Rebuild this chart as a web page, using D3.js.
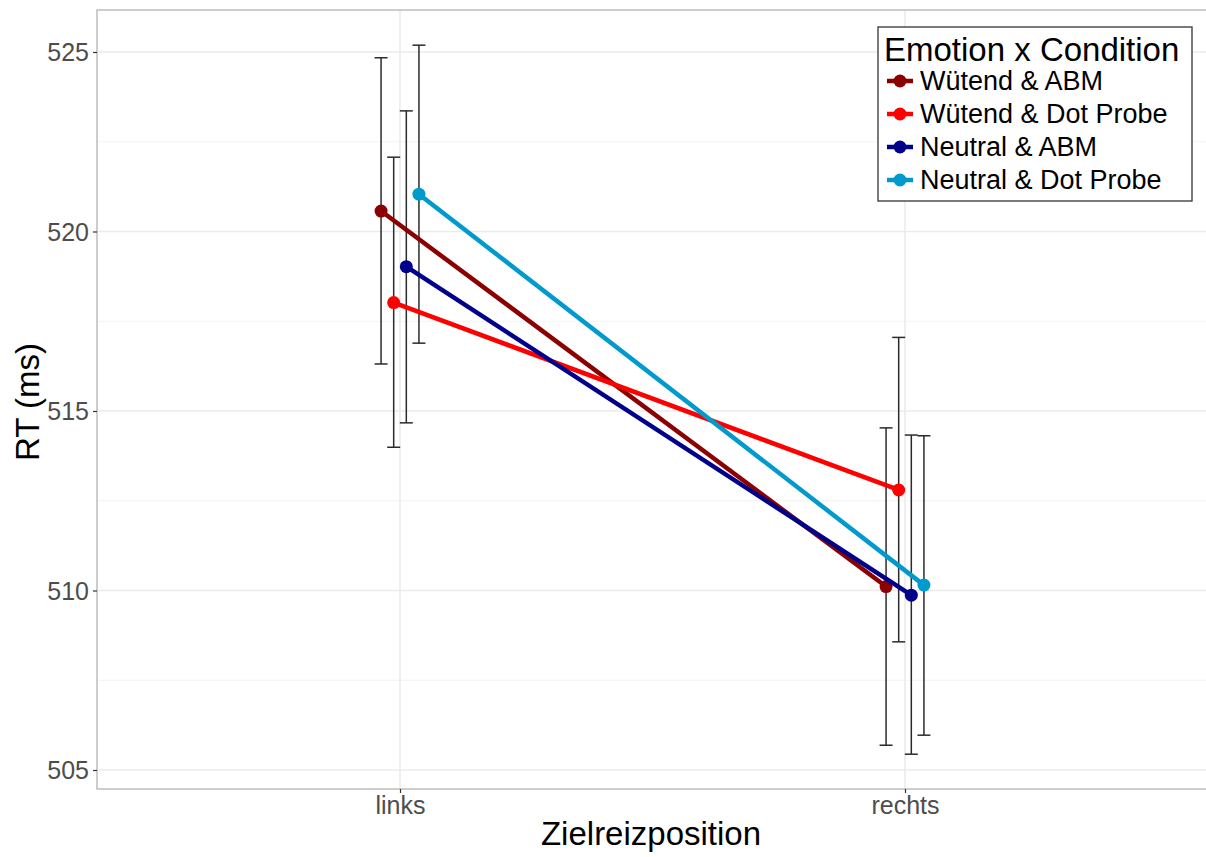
<!DOCTYPE html>
<html>
<head>
<meta charset="utf-8">
<script src="https://cdn.jsdelivr.net/npm/d3@7"></script>
<style>
  body { margin: 0; background: #fff; }
  svg { font-family: "Liberation Sans", Arial, sans-serif; }
</style>
</head>
<body>
<svg id="chart" width="1206" height="857"></svg>
<script>
// data
const positions = ['links', 'rechts'];
const groups = ['Wütend & ABM', 'Wütend & Dot Probe', 'Neutral & ABM', 'Neutral & Dot Probe'];
const groupColors = ['#8b0000', '#ff0000', '#00008b', '#009acd'];
const meanRT = [
  [520.57, 510.11],
  [518.02, 512.80],
  [519.02, 509.87],
  [521.04, 510.15],
];
const upperRT = [
  [524.84, 514.53],
  [522.07, 517.05],
  [523.36, 514.33],
  [525.19, 514.31],
];
const lowerRT = [
  [516.31, 505.69],
  [513.99, 508.57],
  [514.67, 505.44],
  [516.89, 505.97],
];
const yTicks = [505, 510, 515, 520, 525];
const yMinor = [507.5, 512.5, 517.5, 522.5];

const svg = d3.select('#chart');
const panel = { left: 97, top: 10, right: 1208, bottom: 789 };

const x = d3.scaleLinear().domain([0.4, 2.6]).range([panel.left, panel.right]);
const y = d3.scaleLinear().domain([505, 525]).range([770, 52]);
const dodge = d3.scaleBand().domain(groups).range([-0.05, 0.05]);
const xPos = (gi, pi) => x(pi + 1 + dodge(groups[gi]) + dodge.bandwidth() / 2);

// grid
const grid = svg.append('g');
grid.selectAll('.minor').data(yMinor).enter().append('line')
  .attr('x1', panel.left).attr('x2', panel.right)
  .attr('y1', d => y(d)).attr('y2', d => y(d))
  .attr('stroke', '#f3f3f3').attr('stroke-width', 1);
grid.selectAll('.major').data(yTicks).enter().append('line')
  .attr('x1', panel.left).attr('x2', panel.right)
  .attr('y1', d => y(d)).attr('y2', d => y(d))
  .attr('stroke', '#ebebeb').attr('stroke-width', 1.6);
grid.selectAll('.vx').data(positions).enter().append('line')
  .attr('x1', (d, i) => x(i + 1)).attr('x2', (d, i) => x(i + 1))
  .attr('y1', panel.top).attr('y2', panel.bottom)
  .attr('stroke', '#ebebeb').attr('stroke-width', 1.6);

// error bars
const errs = [];
groups.forEach((g, gi) => positions.forEach((p, pi) => {
  errs.push({ gi, pi, lo: lowerRT[gi][pi], hi: upperRT[gi][pi] });
}));
const eb = svg.append('g').attr('stroke', '#2b2b2b').attr('stroke-width', 1.5).attr('fill', 'none');
errs.forEach(e => {
  const cx = xPos(e.gi, e.pi);
  eb.append('line').attr('x1', cx).attr('x2', cx).attr('y1', y(e.hi)).attr('y2', y(e.lo));
  eb.append('line').attr('x1', cx - 6.5).attr('x2', cx + 6.5).attr('y1', y(e.hi)).attr('y2', y(e.hi));
  eb.append('line').attr('x1', cx - 6.5).attr('x2', cx + 6.5).attr('y1', y(e.lo)).attr('y2', y(e.lo));
});

// lines and points
const line = d3.line();
groups.forEach((g, gi) => {
  const pts = positions.map((p, pi) => [xPos(gi, pi), y(meanRT[gi][pi])]);
  svg.append('path').attr('d', line(pts))
    .attr('stroke', groupColors[gi]).attr('stroke-width', 4.5).attr('fill', 'none');
  svg.selectAll(null).data(pts).enter().append('circle')
    .attr('cx', d => d[0]).attr('cy', d => d[1]).attr('r', 6.5)
    .attr('fill', groupColors[gi]);
});

// panel border
svg.append('rect')
  .attr('x', panel.left).attr('y', panel.top)
  .attr('width', panel.right - panel.left).attr('height', panel.bottom - panel.top)
  .attr('fill', 'none').attr('stroke', '#b3b3b3').attr('stroke-width', 1.3);

// y axis
const yAxis = svg.append('g').attr('transform', `translate(${panel.left},0)`)
  .call(d3.axisLeft(y).tickValues(yTicks).tickSize(4).tickPadding(4));
yAxis.select('.domain').remove();
yAxis.selectAll('line').attr('stroke', '#333').attr('stroke-width', 1.2);
yAxis.selectAll('text').attr('fill', '#4d4d4d').attr('font-size', 25)
  .attr('font-family', '"Liberation Sans", Arial, sans-serif').attr('dy', '0.35em');

// x axis
const xAxis = svg.append('g').attr('transform', `translate(0,${panel.bottom})`)
  .call(d3.axisBottom(x).tickValues([1, 2]).tickFormat(d => positions[d - 1]).tickSize(4).tickPadding(3));
xAxis.select('.domain').remove();
xAxis.selectAll('line').attr('stroke', '#333').attr('stroke-width', 1.2);
xAxis.selectAll('text').attr('fill', '#4d4d4d').attr('font-size', 25)
  .attr('font-family', '"Liberation Sans", Arial, sans-serif');

// axis titles
svg.append('text').attr('x', 651).attr('y', 845).attr('text-anchor', 'middle')
  .attr('font-size', 33).attr('fill', '#000').text('Zielreizposition');
svg.append('text').attr('transform', 'translate(39,402) rotate(-90)').attr('text-anchor', 'middle')
  .attr('font-size', 33).attr('fill', '#000').text('RT (ms)');

// legend
const lg = svg.append('g');
lg.append('rect').attr('x', 878).attr('y', 27).attr('width', 314).attr('height', 174)
  .attr('fill', '#fff').attr('stroke', '#333').attr('stroke-width', 1.3);
lg.append('text').attr('x', 884).attr('y', 61).attr('font-size', 33).attr('fill', '#000')
  .text('Emotion x Condition');
groups.forEach((g, gi) => {
  const cy = 81 + gi * 33;
  lg.append('line').attr('x1', 887).attr('x2', 913).attr('y1', cy).attr('y2', cy)
    .attr('stroke', groupColors[gi]).attr('stroke-width', 4.5);
  lg.append('circle').attr('cx', 900).attr('cy', cy).attr('r', 6.5).attr('fill', groupColors[gi]);
  lg.append('text').attr('x', 920).attr('y', cy + 9).attr('font-size', 27).attr('fill', '#000').text(g);
});
</script>
</body>
</html>
